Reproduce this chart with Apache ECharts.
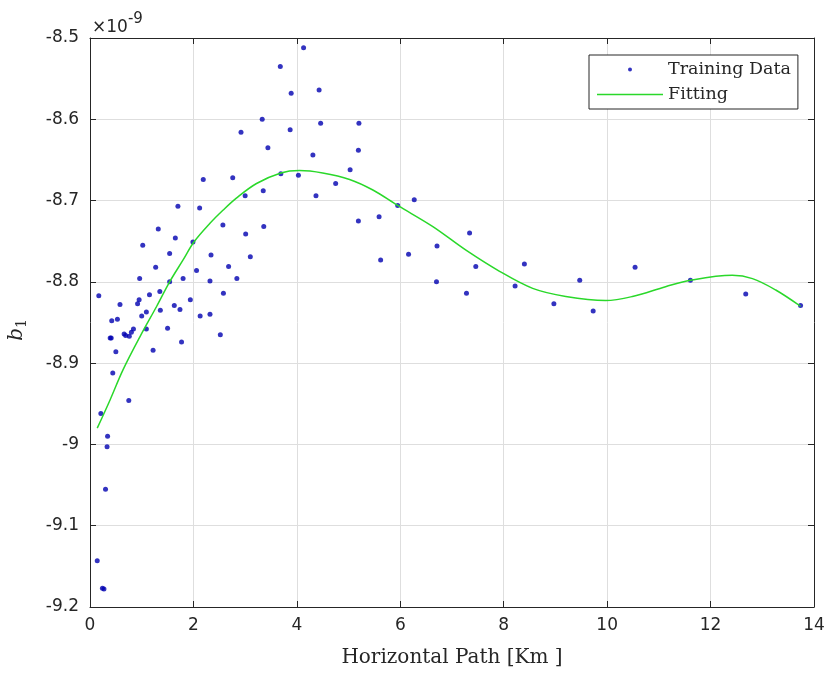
<!DOCTYPE html>
<html>
<head>
<meta charset="utf-8">
<script src="https://cdn.jsdelivr.net/npm/echarts@6/dist/echarts.min.js"></script>
<style>html,body{margin:0;padding:0;background:#fff}#c{width:830px;height:677px}</style>
</head>
<body>
<div id="c"></div>
<script>
// Training data (x in Km, y in units of 1e-9)
const trainX = [4.13,3.68,3.89,4.43,3.33,2.92,3.87,4.46,3.44,4.31,3.69,4.03,4.75,2.19,2.76,3.00,3.35,4.37,1.70,2.12,2.57,3.36,1.32,1.02,1.65,3.01,1.99,1.54,2.34,3.10,1.27,2.68,2.06,0.96,1.54,1.80,2.32,2.84,0.17,1.35,1.15,2.58,0.95,0.92,0.58,1.94,1.09,1.36,1.63,1.74,1.00,2.13,2.32,0.42,0.53,0.84,1.09,1.50,0.80,0.66,0.69,0.76,2.52,0.39,0.41,1.77,0.50,1.22,0.44,0.75,0.21,0.34,0.33,0.30,0.14,0.24,0.27,5.20,5.19,5.03,5.95,6.27,5.19,5.59,7.34,6.71,5.62,6.16,7.46,8.40,6.70,7.28,8.22,8.97,9.47,9.73,10.54,11.61,12.68,13.74];
const trainY = [-8.512,-8.535,-8.568,-8.564,-8.600,-8.616,-8.613,-8.605,-8.635,-8.644,-8.667,-8.669,-8.679,-8.674,-8.672,-8.694,-8.688,-8.694,-8.707,-8.709,-8.730,-8.732,-8.735,-8.755,-8.746,-8.741,-8.751,-8.765,-8.767,-8.769,-8.782,-8.781,-8.786,-8.796,-8.800,-8.796,-8.799,-8.796,-8.817,-8.812,-8.816,-8.814,-8.822,-8.827,-8.828,-8.822,-8.837,-8.835,-8.829,-8.834,-8.842,-8.842,-8.840,-8.848,-8.846,-8.858,-8.858,-8.857,-8.862,-8.864,-8.866,-8.867,-8.865,-8.869,-8.869,-8.874,-8.886,-8.884,-8.912,-8.946,-8.962,-8.990,-9.003,-9.055,-9.143,-9.177,-9.178,-8.605,-8.638,-8.662,-8.706,-8.699,-8.725,-8.720,-8.740,-8.756,-8.773,-8.766,-8.781,-8.778,-8.800,-8.814,-8.805,-8.827,-8.798,-8.836,-8.782,-8.798,-8.815,-8.829];
// Fitted curve
const fitX = [0.14,0.39,0.64,0.97,1.29,1.54,1.80,2.01,2.32,2.57,2.83,3.22,3.69,4.05,4.50,5.02,5.47,5.95,6.63,7.27,7.92,8.56,9.20,9.97,10.49,11.13,11.61,12.42,12.81,13.26,13.74];
const fitY = [-8.980,-8.945,-8.908,-8.867,-8.830,-8.800,-8.773,-8.751,-8.728,-8.712,-8.697,-8.679,-8.666,-8.663,-8.666,-8.674,-8.687,-8.706,-8.732,-8.761,-8.787,-8.808,-8.818,-8.823,-8.818,-8.806,-8.798,-8.792,-8.796,-8.810,-8.830];
const xTicks = [0,2,4,6,8,10,12,14];
const yTickLabels = ['-9.2','-9.1','-9','-8.9','-8.8','-8.7','-8.6','-8.5'];
const seriesNames = ['Training Data','Fitting'];

const axisColor = '#262626';
const gridColor = '#dedede';
const sans = 'DejaVu Sans, sans-serif';
const serif = 'DejaVu Serif, serif';

const chart = echarts.init(document.getElementById('c'), null, {renderer:'canvas'});
const yMin = -9.2, yMax = -8.5;
chart.setOption({
  animation:false,
  backgroundColor:'#fff',
  grid:{left:90,right:16,top:38,bottom:70,containLabel:false},
  xAxis:[{
    type:'value',min:xTicks[0],max:xTicks[xTicks.length-1],interval:2,
    axisLine:{show:true,onZero:false,lineStyle:{color:axisColor,width:1}},
    axisTick:{show:true,inside:true,length:6,lineStyle:{color:axisColor}},
    splitLine:{show:true,lineStyle:{color:gridColor,width:1}},
    axisLabel:{color:axisColor,fontSize:17,fontFamily:sans,margin:10},
    name:'Horizontal Path [Km ]',nameLocation:'middle',nameGap:41,
    nameTextStyle:{color:axisColor,fontSize:20,fontFamily:serif}
  },{
    type:'value',position:'top',min:xTicks[0],max:xTicks[xTicks.length-1],interval:2,
    axisLine:{show:true,onZero:false,lineStyle:{color:axisColor,width:1}},
    axisTick:{show:true,inside:true,length:6,lineStyle:{color:axisColor}},
    splitLine:{show:false},axisLabel:{show:false}
  }],
  yAxis:[{
    type:'value',min:yMin,max:yMax,interval:0.1,
    axisLine:{show:true,onZero:false,lineStyle:{color:axisColor,width:1}},
    axisTick:{show:true,inside:true,length:6,lineStyle:{color:axisColor}},
    splitLine:{show:true,lineStyle:{color:gridColor,width:1}},
    axisLabel:{color:axisColor,fontSize:17,fontFamily:sans,margin:11,
      formatter:function(v){const i=Math.round((v-yMin)/0.1);return yTickLabels[i]!==undefined?yTickLabels[i]:'';}}
  },{
    type:'value',position:'right',min:yMin,max:yMax,interval:0.1,
    axisLine:{show:true,onZero:false,lineStyle:{color:axisColor,width:1}},
    axisTick:{show:true,inside:true,length:6,lineStyle:{color:axisColor}},
    splitLine:{show:false},axisLabel:{show:false}
  }],
  legend:{
    orient:'vertical',left:589,top:55,
    padding:[5,7,5,8],itemGap:6,itemWidth:66,itemHeight:4,itemTextGap:6,
    backgroundColor:'#fff',borderColor:axisColor,borderWidth:1,borderRadius:0,
    textStyle:{color:axisColor,fontSize:17.5,fontFamily:serif,lineHeight:19},
    data:[{name:seriesNames[0],icon:'circle'},{name:seriesNames[1],icon:'path://M0,0H66V1.5H0Z'}]
  },
  series:[{
    name:seriesNames[0],type:'scatter',xAxisIndex:0,yAxisIndex:0,
    symbol:'circle',symbolSize:5,
    itemStyle:{color:'#0000b0'},
    data:trainX.map((x,i)=>[x,trainY[i]]),z:3
  },{
    name:seriesNames[1],type:'line',xAxisIndex:0,yAxisIndex:0,
    smooth:0.35,showSymbol:false,symbol:'none',
    lineStyle:{color:'#2ad82a',width:1.5},itemStyle:{color:'#2ad82a'},
    data:fitX.map((x,i)=>[x,fitY[i]]),z:4
  }],
  graphic:[{
    type:'text',left:92,top:12,
    style:{text:'{a|×10}{b|-9}',rich:{
      a:{fontSize:17,fontFamily:sans,fill:axisColor,lineHeight:24,verticalAlign:'bottom'},
      b:{fontSize:15,fontFamily:sans,fill:axisColor,lineHeight:24,verticalAlign:'top'}}}
  },{
    type:'text',x:17,y:330,rotation:Math.PI/2,
    style:{text:'{b|b}{s|1}',align:'center',verticalAlign:'middle',rich:{
      b:{fontSize:20,fontFamily:serif,fontStyle:'italic',fill:axisColor,lineHeight:24,verticalAlign:'middle'},
      s:{fontSize:14,fontFamily:serif,fill:axisColor,lineHeight:24,verticalAlign:'bottom'}}}
  }]
});
</script>
</body>
</html>
